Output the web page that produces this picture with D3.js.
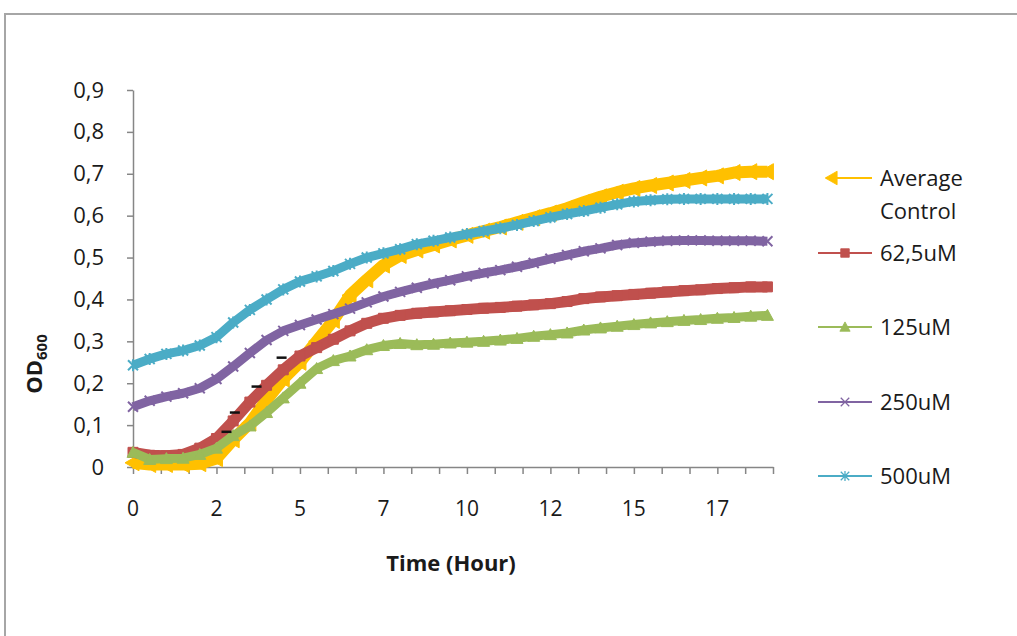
<!DOCTYPE html>
<html>
<head>
<meta charset="utf-8">
<script src="https://cdn.jsdelivr.net/npm/d3@7"></script>
<style>
  body { margin: 0; background: #fff; }
  svg { display: block; font-family: "Open Sans", sans-serif; }
</style>
</head>
<body>
<svg id="chart" width="1017" height="636"></svg>
<script>
// time points (hours)
const hours = [0,0.5,1,1.5,2,2.5,3,3.5,4,4.5,5,5.5,6,6.5,7,7.5,8,8.5,9,9.5,10,10.5,11,11.5,12,12.5,13,13.5,14,14.5,15,15.5,16,16.5,17,17.5,18,18.5,19];

// OD600 per series
const control = [0.010,0.006,0.006,0.006,0.008,0.020,0.065,0.105,0.160,0.210,0.250,0.300,0.350,0.410,0.447,0.482,0.505,0.518,0.530,0.542,0.553,0.563,0.573,0.584,0.595,0.606,0.618,0.632,0.645,0.656,0.665,0.672,0.678,0.684,0.690,0.695,0.703,0.705,0.705];
const uM62 = [0.035,0.028,0.027,0.030,0.045,0.068,0.110,0.155,0.195,0.232,0.265,0.285,0.305,0.325,0.343,0.355,0.362,0.367,0.370,0.373,0.376,0.379,0.381,0.384,0.387,0.390,0.395,0.402,0.406,0.409,0.412,0.415,0.418,0.421,0.423,0.426,0.428,0.430,0.430];
const uM125 = [0.035,0.018,0.020,0.021,0.030,0.045,0.075,0.098,0.130,0.165,0.200,0.235,0.254,0.265,0.280,0.290,0.295,0.292,0.293,0.296,0.298,0.300,0.303,0.307,0.312,0.316,0.320,0.327,0.332,0.336,0.340,0.344,0.347,0.350,0.352,0.355,0.357,0.360,0.362];
const uM250 = [0.144,0.158,0.168,0.176,0.188,0.210,0.240,0.272,0.303,0.325,0.339,0.352,0.365,0.378,0.393,0.407,0.418,0.428,0.438,0.446,0.455,0.463,0.470,0.478,0.487,0.497,0.506,0.515,0.522,0.530,0.535,0.538,0.540,0.541,0.541,0.540,0.540,0.540,0.539];
const uM500 = [0.243,0.258,0.270,0.278,0.290,0.310,0.345,0.375,0.400,0.424,0.443,0.455,0.468,0.485,0.500,0.510,0.520,0.532,0.540,0.548,0.556,0.563,0.570,0.578,0.587,0.596,0.604,0.611,0.619,0.627,0.634,0.637,0.639,0.640,0.640,0.640,0.640,0.640,0.640];

// error bar caps on the 62,5uM curve
const errHours = [2.8, 3.05, 3.7, 4.45];
const errTop = [0.084, 0.130, 0.192, 0.261];

const seriesNames = ["Average Control", "62,5uM", "125uM", "250uM", "500uM"];
const seriesColors = ["#FFC000", "#C0504D", "#9BBB59", "#8064A2", "#4BACC6"];
const seriesValues = [control, uM62, uM125, uM250, uM500];

const xLabels = ["0","2","5","7","10","12","15","17"];
const xLabelHours = [0,2.5,5,7.5,10,12.5,15,17.5];
const yTicks = [0,0.1,0.2,0.3,0.4,0.5,0.6,0.7,0.8,0.9];

const svg = d3.select("#chart");

// chart frame
svg.append("path")
  .attr("d","M5,636V14H1017")
  .attr("fill","none").attr("stroke","#a6a6a6").attr("stroke-width",2);

const x = d3.scaleLinear().domain([0, 23*5/6]).range([133, 773]);
const y = d3.scaleLinear().domain([0, 0.9]).range([467, 90]);

const axisColor = "#868686";
const textColor = "#1a1a1a";

// y axis
const yAxis = svg.append("g").attr("transform","translate(133,0)")
  .call(d3.axisLeft(y).tickValues(yTicks).tickSize(6).tickSizeOuter(0)
    .tickFormat(d => d === 0 ? "0" : d.toFixed(1).replace(".", ",")));
yAxis.select(".domain").attr("stroke", axisColor).attr("stroke-width",1.5);
yAxis.selectAll(".tick line").attr("stroke", axisColor).attr("stroke-width",1.5);
yAxis.selectAll(".tick text").attr("x",-29).attr("font-size",22)
  .attr("font-family","'Open Sans',sans-serif").attr("fill",textColor);

// x axis (tick every 10 categories, labels every 3rd tick)
const xTickPos = d3.range(0, 24).map(i => i*5/6);
const xAxis = svg.append("g").attr("transform","translate(0,467)")
  .call(d3.axisBottom(x).tickValues(xTickPos).tickSize(7).tickSizeOuter(0).tickFormat(""));
xAxis.select(".domain").attr("stroke", axisColor).attr("stroke-width",1.5);
xAxis.selectAll(".tick line").attr("stroke", axisColor).attr("stroke-width",1.5);

svg.append("g").selectAll("text")
  .data(xLabels)
  .join("text")
  .attr("x", (d,i) => x(xLabelHours[i]))
  .attr("y", 516)
  .attr("text-anchor","middle")
  .attr("font-size",21).attr("fill",textColor)
  .text(d => d);

// axis titles
svg.append("text")
  .attr("x", 451).attr("y", 571)
  .attr("text-anchor","middle")
  .attr("font-size",22).attr("font-weight","bold").attr("fill",textColor)
  .text("Time (Hour)");

const yTitle = svg.append("text")
  .attr("transform","translate(42,364) rotate(-90)")
  .attr("text-anchor","middle")
  .attr("font-size",22).attr("font-weight","bold").attr("fill",textColor);
yTitle.append("tspan").text("OD");
yTitle.append("tspan").attr("font-size",15).attr("dy",5).text("600");

// markers
function markerPath(i) {
  if (i === 0) return "M-8,0L6,-8L6,8Z";
  if (i === 1) return "M-5,-5H5V5H-5Z";
  if (i === 2) return "M0,-6L6,5H-6Z";
  if (i === 3) return "M-5,-5L5,5M-5,5L5,-5";
  return "M-5,-5L5,5M-5,5L5,-5M0,-6V6";
}
const filled = [true, true, true, false, false];
const bandWidth = [12, 11, 9, 9, 9];

const line = d3.line().x((d,i) => x(hours[i])).y(d => y(d));

seriesValues.forEach((vals, si) => {
  const g = svg.append("g");
  g.append("path")
    .datum(vals)
    .attr("d", line)
    .attr("fill","none")
    .attr("stroke", seriesColors[si])
    .attr("stroke-width", bandWidth[si])
    .attr("stroke-linejoin","round");
  g.selectAll("path.m")
    .data(vals)
    .join("path")
    .attr("class","m")
    .attr("transform", (d,i) => `translate(${x(hours[i])},${y(d)})`)
    .attr("d", markerPath(si))
    .attr("fill", filled[si] ? seriesColors[si] : "none")
    .attr("stroke", seriesColors[si])
    .attr("stroke-width", filled[si] ? 1 : 2);
});

// error caps
svg.append("g").selectAll("line")
  .data(errTop)
  .join("line")
  .attr("x1", (d,i) => x(errHours[i]) - 5)
  .attr("x2", (d,i) => x(errHours[i]) + 5)
  .attr("y1", d => y(d)).attr("y2", d => y(d))
  .attr("stroke","#111").attr("stroke-width",2.5);

// legend
const legendY = [178, 253, 327, 402, 476];
const legend = svg.append("g");
seriesNames.forEach((name, i) => {
  const ly = legendY[i];
  const g = legend.append("g");
  g.append("line")
    .attr("x1", i === 0 ? 826 : 818).attr("x2", 872)
    .attr("y1", ly).attr("y2", ly)
    .attr("stroke", seriesColors[i]).attr("stroke-width", 2);
  g.append("path")
    .attr("transform", `translate(${i === 0 ? 832 : 845},${ly}) scale(0.85)`)
    .attr("d", markerPath(i))
    .attr("fill", filled[i] ? seriesColors[i] : "none")
    .attr("stroke", seriesColors[i])
    .attr("stroke-width", filled[i] ? 1 : 1.5);
  if (i === 0) {
    g.append("text").attr("x", 880).attr("y", ly + 8).attr("font-size",22).attr("fill",textColor).text("Average");
    g.append("text").attr("x", 880).attr("y", ly + 41).attr("font-size",22).attr("fill",textColor).text("Control");
  } else {
    g.append("text").attr("x", 880).attr("y", ly + 8).attr("font-size",22).attr("fill",textColor).text(name);
  }
});
</script>
</body>
</html>
